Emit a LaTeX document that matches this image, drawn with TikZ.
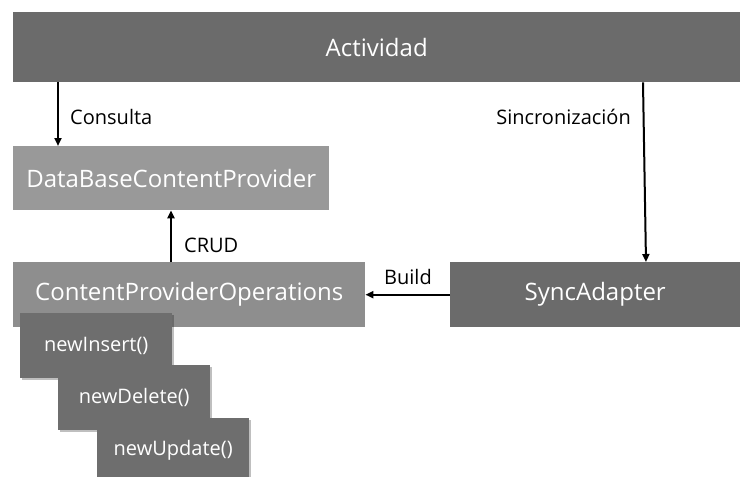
\documentclass[tikz,border=0pt]{standalone}
\usepackage{fontspec}
\setmainfont{Open Sans}
\usetikzlibrary{shadows,arrows.meta}
\definecolor{dark}{HTML}{6B6B6B}
\definecolor{light}{HTML}{999999}
\definecolor{mid}{HTML}{8E8E8E}
\definecolor{small}{HTML}{6E6E6E}
\begin{document}
\begin{tikzpicture}[x=1pt,y=-1pt,
  box/.style={draw=none, inner sep=0pt, text=white, anchor=north west,
    font=\fontsize{24}{28}\selectfont},
  smallbox/.style={box, fill=small, minimum width=152pt, minimum height=65pt,
    font=\fontsize{20}{24}\selectfont,
    drop shadow={shadow xshift=2pt, shadow yshift=-2pt, opacity=0.25, fill=black}},
  lbl/.style={inner sep=0pt, font=\fontsize{20}{24}\selectfont},
  arr/.style={line width=2pt, -{Triangle[length=8pt,width=7pt]}}]
\useasboundingbox (0,0) rectangle (740,477);
\clip (0,0) rectangle (740,477);
\fill[white] (0,0) rectangle (740,477);
\node[box, fill=dark, minimum width=727pt, minimum height=70pt] (act) at (13,12) {Actividad};
\node[box, fill=light, minimum width=316pt, minimum height=64pt] (db) at (13,146) {DataBaseContentProvider};
\node[box, fill=mid, minimum width=352pt, minimum height=65pt] (cpo) at (13,262) {ContentProviderOperations};
\node[box, fill=dark, minimum width=290pt, minimum height=65pt] (sync) at (450,262) {SyncAdapter};
\node[smallbox] (ins) at (20,313) {newInsert()};
\node[smallbox] (del) at (58,365) {newDelete()};
\node[smallbox] (upd) at (97,418) {newUpdate()};
\draw[arr] ([xshift=45pt]act.south west) -- ([xshift=45pt]db.north west);
\draw[arr] ([xshift=158pt]cpo.north west) -- ([xshift=158pt]db.south west);
\draw[arr] ([xshift=630pt]act.south west) -- ([xshift=196pt]sync.north west);
\draw[arr] (sync.west) -- (cpo.east);
\node[lbl, anchor=west] (lc) at (70,117) {Consulta};
\node[lbl, anchor=west] (lcrud) at (184,245) {CRUD};
\node[lbl, anchor=east] (ls) at (631,117) {Sincronización};
\node[lbl] (lb) at (408,277) {Build};
\end{tikzpicture}
\end{document}
